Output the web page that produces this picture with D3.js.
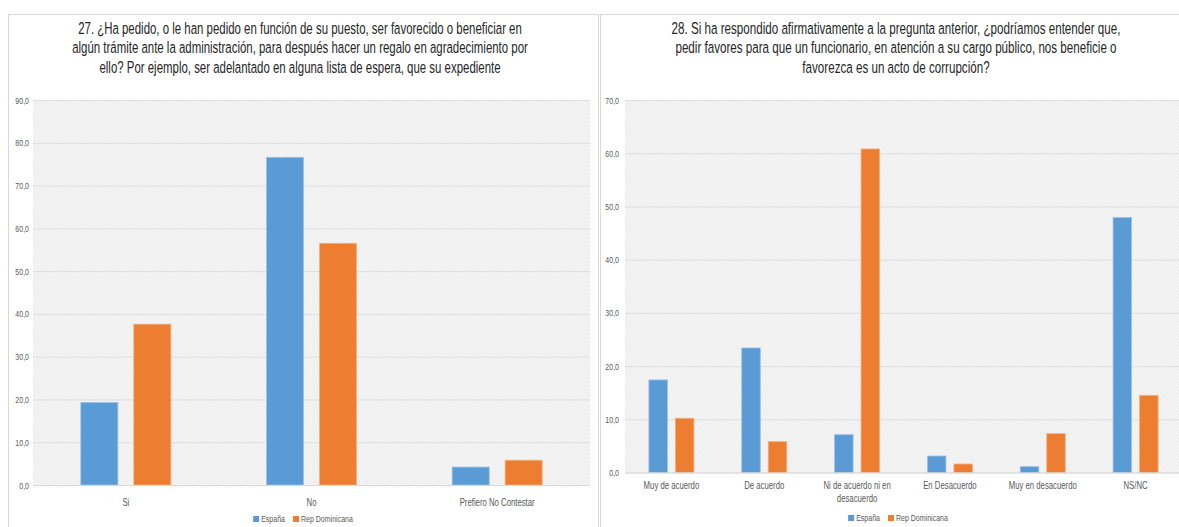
<!DOCTYPE html>
<html><head><meta charset="utf-8">
<script src="https://cdn.jsdelivr.net/npm/d3@7/dist/d3.min.js"></script>
<style>
body{margin:0;background:#fff;}
svg{display:block;}
text{font-family:"Liberation Sans Narrow","Arial Narrow","Liberation Sans",sans-serif;}
</style></head>
<body><svg id="c" width="1179" height="527"></svg>
<script>
const seriesNames = ["España", "Rep Dominicana"];
const seriesColors = ["#5B9BD5", "#ED7D31"];
const seriesStroke = ["#9cc2e8", "#f5b27f"];

const catsLeft = ["Si", "No", "Prefiero No Contestar"];
const espLeft = [19.3, 76.6, 4.2];
const rdLeft = [37.6, 56.5, 5.8];
const ticksLeft = [0, 10, 20, 30, 40, 50, 60, 70, 80, 90];
const titleLeft = [
  "27. ¿Ha pedido, o le han pedido en función de su puesto, ser favorecido o beneficiar en",
  "algún trámite ante la administración, para después hacer un regalo en agradecimiento por",
  "ello? Por ejemplo, ser adelantado en alguna lista de espera, que su expediente"
];

const catsRight = ["Muy de acuerdo", "De acuerdo", "Ni de acuerdo ni en desacuerdo", "En Desacuerdo", "Muy en desacuerdo", "NS/NC"];
const catLinesRight = [["Muy de acuerdo"], ["De acuerdo"], ["Ni de acuerdo ni en", "desacuerdo"], ["En Desacuerdo"], ["Muy en desacuerdo"], ["NS/NC"]];
const espRight = [17.4, 23.4, 7.1, 3.1, 1.1, 47.9];
const rdRight = [10.2, 5.8, 60.8, 1.6, 7.3, 14.5];
const ticksRight = [0, 10, 20, 30, 40, 50, 60, 70];
const titleRight = [
  "28. Si ha respondido afirmativamente a la pregunta anterior, ¿podríamos entender que,",
  "pedir favores para que un funcionario, en atención a su cargo público, nos beneficie o",
  "favorezca es un acto de corrupción?"
];

const SX = 0.74; // horizontal condensing of small labels (narrow face)

const svg = d3.select("#c");
const defs = svg.append("defs");
const pat = defs.append("pattern").attr("id", "hatch").attr("patternUnits", "userSpaceOnUse")
  .attr("width", 3).attr("height", 3);
pat.append("rect").attr("width", 3).attr("height", 3).attr("fill", "#f7f7f7");
pat.append("path").attr("d", "M-1,1 L1,-1 M0,3 L3,0 M2,4 L4,2").attr("stroke", "#e3e3e3").attr("stroke-width", 0.8);

function fmt(v){ return d3.format(".1f")(v).replace(".", ","); }

function stext(parent, x, y, str, size, anchor, sx){
  const g = parent.append("g").attr("transform", `translate(${x},${y}) scale(${sx},1)`);
  return g.append("text").attr("x", 0).attr("y", 0).attr("text-anchor", anchor)
    .attr("fill", "#595959").attr("font-size", size).text(str);
}

function panel(o){
  const g = svg.append("g");
  g.append("rect").attr("x", o.px).attr("y", 14.5).attr("width", o.pw).attr("height", 560)
    .attr("fill", "#fff").attr("stroke", "#d9d9d9").attr("stroke-width", 1);

  const x0 = d3.scaleBand().domain(o.cats).range([o.x0, o.x1]).paddingInner(0).paddingOuter(0);
  const bw = x0.bandwidth();
  const gw = bw * 0.485;
  const x1 = d3.scaleBand().domain(seriesNames).range([-gw/2, gw/2]).paddingInner(0.30).paddingOuter(0);
  const y = d3.scaleLinear().domain([0, o.max]).range([o.yb, o.yt]);

  g.append("rect").attr("x", o.x0).attr("y", y(o.max)).attr("width", o.x1 - o.x0).attr("height", y(0) - y(o.max))
    .attr("fill", "url(#hatch)");

  const ax = d3.axisLeft(y).tickValues(o.ticks).tickFormat(fmt).tickSize(-(o.x1 - o.x0)).tickPadding(5);
  const axg = g.append("g").attr("transform", `translate(${o.x0},0)`).call(ax);
  axg.select(".domain").remove();
  axg.selectAll(".tick line").attr("stroke", "#dedede").attr("stroke-width", 1);
  axg.selectAll(".tick text").attr("fill", "#595959").attr("font-size", 9.5)
    .attr("x", (o.labelX - o.x0) / SX).attr("transform", `scale(${SX},1)`)
    .attr("text-anchor", "end");

  const data = [];
  o.cats.forEach((c, i) => {
    data.push({c, s: seriesNames[0], v: o.s1[i], k: 0});
    data.push({c, s: seriesNames[1], v: o.s2[i], k: 1});
  });
  g.append("g").selectAll("rect").data(data).join("rect")
    .attr("x", d => x0(d.c) + bw/2 + x1(d.s))
    .attr("y", d => y(d.v))
    .attr("width", x1.bandwidth())
    .attr("height", d => y(0) - y(d.v))
    .attr("fill", d => seriesColors[d.k])
    .attr("stroke", d => seriesStroke[d.k]).attr("stroke-width", 0.8);

  g.append("line").attr("x1", o.x0).attr("x2", o.x1).attr("y1", y(0) + 0.5).attr("y2", y(0) + 0.5)
    .attr("stroke", "#d9d9d9");

  o.cats.forEach((c, i) => {
    const lines = o.catLines ? o.catLines[i] : [c];
    lines.forEach((l, j) => stext(g, x0(c) + bw/2, o.catY + j * 13, l, 10.5, "middle", SX));
  });

  // title
  const tg = g.append("g");
  const tt = [];
  o.title.forEach((l, j) => {
    tt.push(tg.append("text").attr("x", 0).attr("y", o.titleY + j * 19.3).attr("text-anchor", "middle")
      .attr("fill", "#262626").attr("font-size", 16.5).text(l));
  });
  const nat = tt[0].node().getComputedTextLength();
  const sx = o.titleW / nat;
  tg.attr("transform", `translate(${o.titleCx},0) scale(${sx},1)`);

  // legend
  const lg = g.append("g");
  let cx = 0;
  seriesNames.forEach((s, k) => {
    lg.append("rect").attr("x", cx).attr("y", -6).attr("width", 6).attr("height", 6).attr("fill", seriesColors[k]);
    const tx = stext(lg, cx + 8, 0, s, 9.5, "start", SX);
    cx += 8 + tx.node().getComputedTextLength() * SX + 8;
  });
  const lw = cx - 8;
  lg.attr("transform", `translate(${o.legCx - lw/2},${o.legY})`);
}

panel({px: 8.5, pw: 590, cats: catsLeft, s1: espLeft, s2: rdLeft, ticks: ticksLeft, max: 90,
  x0: 33, x1: 590, yt: 100, yb: 485, labelX: 29, catY: 506, title: titleLeft, titleY: 34,
  titleCx: 300, titleW: 444, legCx: 303, legY: 522});
panel({px: 600.5, pw: 600, cats: catsRight, catLines: catLinesRight, s1: espRight, s2: rdRight, ticks: ticksRight, max: 70,
  x0: 625, x1: 1182, yt: 100, yb: 472.5, labelX: 619, catY: 489, title: titleRight, titleY: 34,
  titleCx: 896, titleW: 449, legCx: 898, legY: 521});
</script>
</body></html>
